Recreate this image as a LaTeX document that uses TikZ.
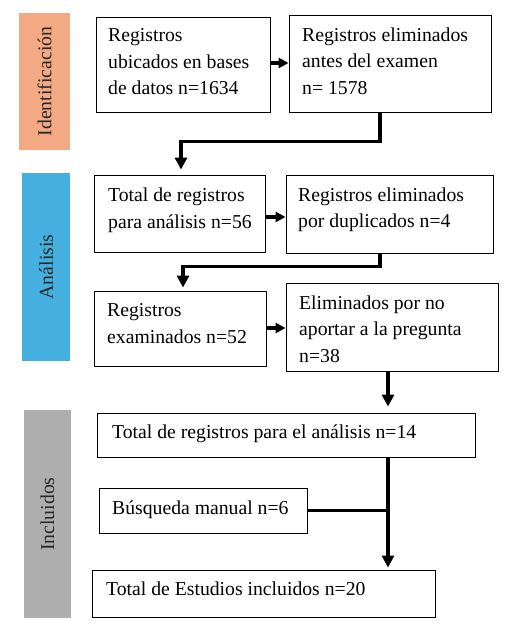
\documentclass[tikz,border=0pt]{standalone}
\usepackage{fontspec}
\setmainfont{Liberation Serif}
\usetikzlibrary{arrows.meta}
\definecolor{salmon}{HTML}{F4A985}
\definecolor{skyb}{HTML}{45B0E0}
\definecolor{grayb}{HTML}{AEAEAE}
\tikzset{
  box/.style={draw, line width=0.9pt, inner sep=0pt},
  txt/.style={anchor=base west, align=left, inner sep=0pt, font=\fontsize{19.7}{26.5}\selectfont},
  band/.style={rotate=90, inner sep=0pt, text=black!85, font=\fontsize{19.7}{24}\selectfont},
  conn/.style={line width=3.6pt},
  arrd/.style={line width=3.6pt, -{Triangle[length=12pt,width=12pt]}},
  arrh/.style={line width=3.4pt, -{Triangle[length=10pt,width=10pt]}},
}
\begin{document}
\begin{tikzpicture}[x=1pt,y=-1pt]
\useasboundingbox (0,0) rectangle (523,636);
% bands
\node[band, fill=salmon, minimum width=137pt, minimum height=51pt] (L1) at (44.5,81.5) {Identificación};
\node[band, fill=skyb, minimum width=188pt, minimum height=48pt] (L2) at (46,267) {Análisis};
\node[band, fill=grayb, minimum width=208pt, minimum height=47pt] (L3) at (47.5,514) {Incluidos};
% boxes
\node[box, minimum width=174pt, minimum height=95pt] (A) at (183,64.5) {};
\node[box, minimum width=202pt, minimum height=97pt] (B) at (390,63.5) {};
\node[box, minimum width=171pt, minimum height=77pt] (C) at (179.5,213.5) {};
\node[box, minimum width=207pt, minimum height=78pt] (D) at (389.5,214) {};
\node[box, minimum width=172pt, minimum height=75pt] (E) at (180,328.5) {};
\node[box, minimum width=212pt, minimum height=88pt] (F) at (392,327) {};
\node[box, minimum width=378pt, minimum height=44pt] (G) at (286,435) {};
\node[box, minimum width=208pt, minimum height=45pt] (H) at (203,510.5) {};
\node[box, minimum width=343pt, minimum height=47pt] (I) at (263.5,593.5) {};
% texts (anchored at the baseline of their last line)
\node[txt] (tA) at (108,95) {Registros\\ubicados en bases\\de datos n=1634};
\node[txt] (tB) at (302,94.5) {Registros eliminados\\antes del examen\\n= 1578};
\node[txt] (tC) at (108,228) {Total de registros\\para análisis n=56};
\node[txt] (tD) at (298,227.5) {Registros eliminados\\por duplicados n=4};
\node[txt] (tE) at (107,343) {Registros\\examinados n=52};
\node[txt] (tF) at (299,362) {Eliminados por no\\aportar a la pregunta\\n=38};
\node[txt] (tG) at (112,438) {Total de registros para el análisis n=14};
\node[txt] (tH) at (112,514) {Búsqueda manual n=6};
\node[txt] (tI) at (106,595) {Total de Estudios incluidos n=20};
% connectors
\draw[arrh] ([yshift=1.5pt]A.east) -- ([yshift=1.5pt]A.east -| B.west);
\draw[arrh] ([yshift=-3.5pt]C.east) -- ([yshift=-3.5pt]C.east -| D.west);
\draw[arrh] ([yshift=0.5pt]E.east) -- ([yshift=0.5pt]E.east -| F.west);
\coordinate (k1) at ([xshift=1.5pt,yshift=33pt]C.north);
\draw[arrd, shorten >=5pt] ([xshift=-10pt]B.south) |- (k1) -- ([xshift=1.5pt]C.north);
\coordinate (k2) at ([xshift=3pt,yshift=24pt]E.north);
\draw[arrd, shorten >=3pt] ([xshift=-9.5pt]D.south) |- (k2) -- ([xshift=3pt]E.north);
\draw[arrd, shorten >=6pt] ([xshift=-4pt]F.south) -- ([xshift=-4pt]F.south |- G.north);
\coordinate (gs) at ([xshift=102pt]G.south);
\draw[arrd, shorten >=2pt] (gs) -- (gs |- I.north);
\draw[conn] (H.east) -- (H.east -| gs);
\end{tikzpicture}
\end{document}
